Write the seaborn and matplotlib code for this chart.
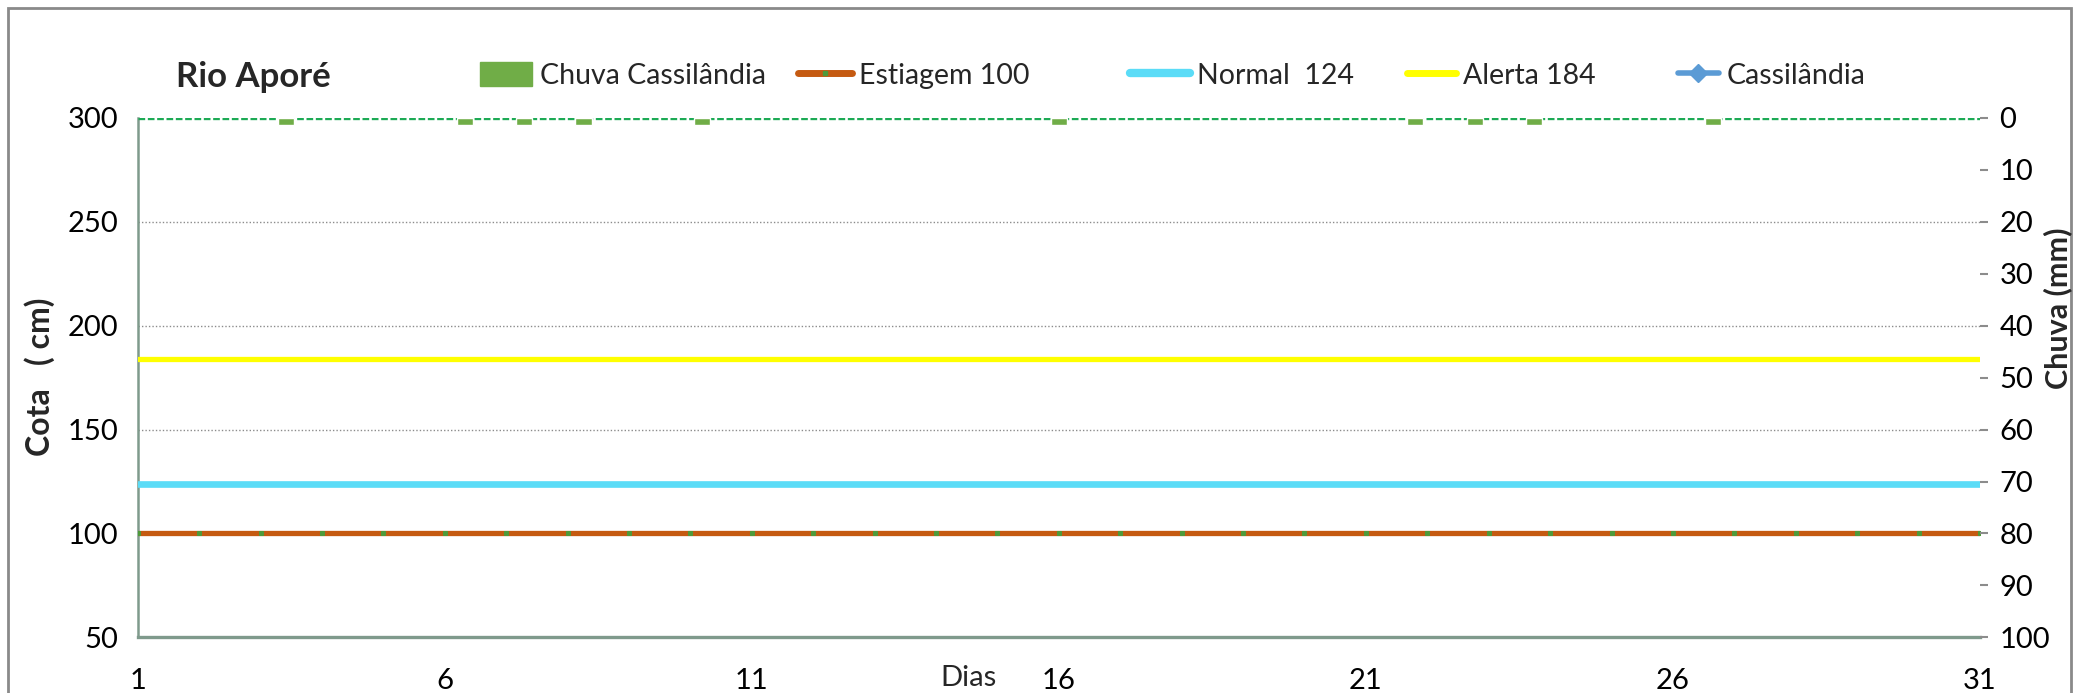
import matplotlib
matplotlib.use("Agg")
import matplotlib.pyplot as plt
import matplotlib.patches as mpatches
from matplotlib.lines import Line2D
import seaborn as sns
import numpy as np
import pandas as pd

# ---------------- data ----------------
days = list(range(1, 32))
estiagem = [100] * 31
normal = [124] * 31
alerta = [184] * 31
cassilandia = [np.nan] * 31
rain_days = [3, 6, 7, 8, 10, 16, 22, 23, 24, 27]
rain_mm = [1.4, 1.4, 1.4, 1.4, 1.4, 1.4, 1.4, 1.4, 1.4, 1.4]
x_ticks = [1, 6, 11, 16, 21, 26, 31]
left_ticks = [50, 100, 150, 200, 250, 300]
right_ticks = [0, 10, 20, 30, 40, 50, 60, 70, 80, 90, 100]
legend_labels = ["Chuva Cassilândia", "Estiagem 100", "Normal  124", "Alerta 184", "Cassilândia"]

sns.set_theme(style="white")
plt.rcParams['font.family'] = ['Lato', 'DejaVu Sans']

FS = 21
W, H = 2078, 693
fig = plt.figure(figsize=(W / 100, H / 100), dpi=100)
fig.patch.set_facecolor("white")

DW, DH = 1568, 523
pos = [104 / DW, 1 - 481 / DH, (1494 - 104) / DW, (481 - 89) / DH]
ax = fig.add_axes(pos)

df = pd.DataFrame({"dia": days, "est": estiagem, "nor": normal, "ale": alerta, "cas": cassilandia})
sns.lineplot(data=df, x="dia", y="est", ax=ax, color="#C55A11", lw=3.8, zorder=3,
             marker="s", markersize=2.4, markerfacecolor="#4E9A3A", markeredgecolor="#4E9A3A")
sns.lineplot(data=df, x="dia", y="nor", ax=ax, color="#5BDCF7", lw=4.8, zorder=3)
sns.lineplot(data=df, x="dia", y="ale", ax=ax, color="#FFFF00", lw=3.8, zorder=3)

ax.set_xlim(1, 31)
ax.set_ylim(50, 300)
ax.set_xticks(x_ticks)
ax.set_yticks(left_ticks)
ax.set_xlabel("")
ax.set_ylabel("")
for y in [100, 150, 200, 250]:
    ax.axhline(y, color="#8c8c8c", lw=1.0, ls=(0, (1, 1.5)), zorder=1)
ax.tick_params(axis="both", labelsize=FS, colors="#8c8c8c", labelcolor="black", direction="out")
ax.tick_params(axis="y", length=8, width=1.5, pad=6)
ax.tick_params(axis="x", length=10, width=1.5, pad=12)
for s in ["top", "right"]:
    ax.spines[s].set_visible(False)
ax.spines["left"].set_color("#7f9a8c")
ax.spines["left"].set_linewidth(1.8)
ax.spines["bottom"].set_color("#7f9a8c")
ax.spines["bottom"].set_linewidth(2.4)

# rain axis (secondary, inverted)
axr = fig.add_axes(pos, frameon=False)
rdf = pd.DataFrame({"dia": rain_days, "mm": rain_mm})
sns.barplot(data=rdf, x="dia", y="mm", ax=axr, native_scale=True, color="#70AD47",
            width=0.27, saturation=1, zorder=4)
axr.set_xlim(0.5, 31.5)
axr.set_ylim(100, 0)
axr.set_xticks([])
axr.set_xlabel("")
axr.set_ylabel("")
axr.yaxis.tick_right()
axr.set_yticks(right_ticks)
axr.tick_params(axis="y", labelsize=FS, colors="#8c8c8c", labelcolor="black",
                length=6, width=1.5, pad=8, direction="out")
axr.spines["right"].set_visible(True)
axr.spines["right"].set_color("#7f9a8c")
axr.spines["right"].set_linewidth(1.8)
axr.axhline(0, color="#1DAA55", lw=2.4, ls=(0, (2, 0.8)), zorder=3)
axr.patch.set_alpha(0)

# labels
fig.text(30 / DW, 1 - 284 / DH, "Cota   ( cm)", rotation=90, ha="center", va="center",
         fontsize=23, fontweight="bold")
fig.text(1553 / DW, 1 - 233 / DH, "Chuva (mm)", rotation=90, ha="center", va="center",
         fontsize=22, fontweight="bold")
fig.text(731 / DW, 1 - 512 / DH, "Dias", ha="center", va="center", fontsize=FS)
fig.text(133 / DW, 1 - 58 / DH, "Rio Aporé", ha="left", va="center", fontsize=25,
         fontweight="bold")

# legend (one entry per box, placed like the original)
handles = [
    mpatches.Patch(color="#70AD47"),
    Line2D([], [], color="#C55A11", lw=5, solid_capstyle="round", marker="s",
           markersize=3, markerfacecolor="#4E9A3A", markeredgecolor="#4E9A3A"),
    Line2D([], [], color="#5BDCF7", lw=6, solid_capstyle="round"),
    Line2D([], [], color="#FFFF00", lw=5, solid_capstyle="round"),
    Line2D([], [], color="#5B9BD5", lw=4, solid_capstyle="round", marker="D", markersize=9,
           markerfacecolor="#5B9BD5", markeredgecolor="#5B9BD5"),
]
starts = [362, 602, 853, 1062, 1266]
hlens = [1.85, 1.9, 2.1, 1.7, 1.45]
for h, lab, xs, hl in zip(handles, legend_labels, starts, hlens):
    fig.legend([h], [lab], loc="center left", bbox_to_anchor=(xs / DW, 1 - 57 / DH),
               frameon=False, fontsize=20.5, handlelength=hl, handletextpad=0.25,
               borderpad=0, borderaxespad=0, handleheight=0.9)

# outer frame
fig.add_artist(mpatches.Rectangle((6 / DW, -0.1), (1563 - 6) / DW, 1 - 6 / DH + 0.1,
                                  transform=fig.transFigure, fill=False,
                                  edgecolor="#8a8a8a", lw=2))

fig.savefig("out.png", dpi=100)
